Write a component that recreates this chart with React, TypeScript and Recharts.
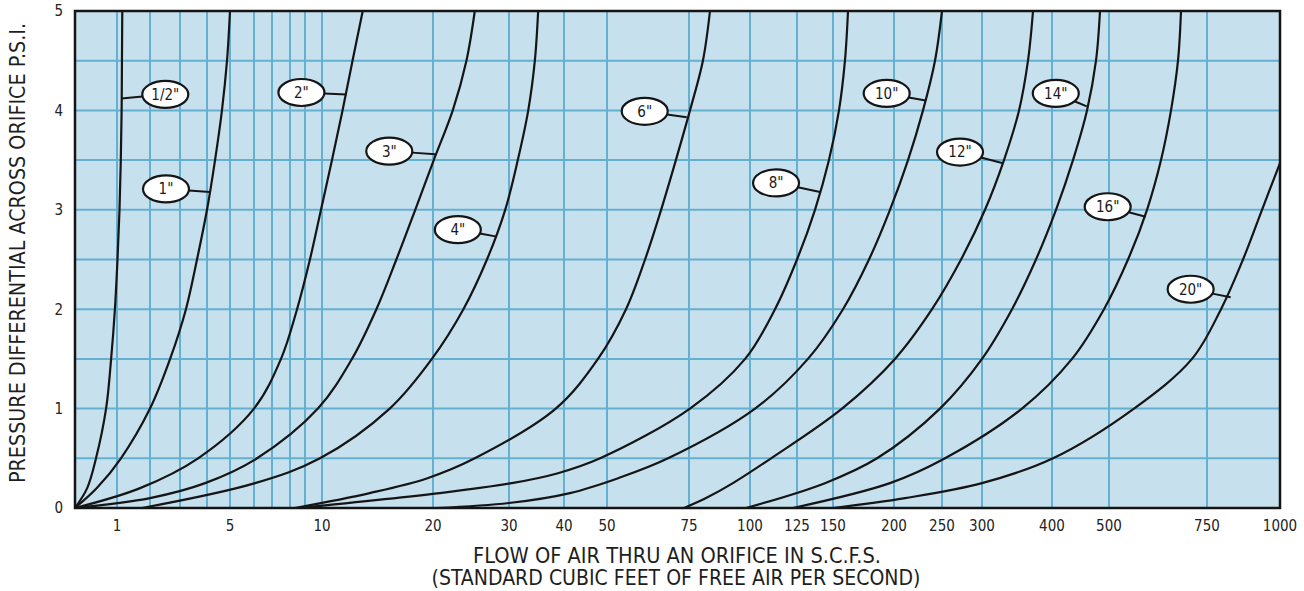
import React from "react";
import {
  LineChart,
  Line,
  XAxis,
  YAxis,
  CartesianGrid,
  ReferenceArea,
  ReferenceDot,
} from "recharts";

// x axis of the original is hand drawn: not linear, not log.
// flow value -> offset along the axis
const FLOW_STOPS = [0, 1, 2, 3, 4, 5, 6, 7, 8, 9, 10, 20, 30, 40, 50, 75, 100, 125, 150, 200, 250, 300, 400, 500, 750, 1000];
const STOP_OFFSETS = [0, 42, 75, 105, 132, 155, 179, 197, 215, 230, 247, 358, 434, 489, 532, 614, 675, 722, 758, 819, 867, 907, 977, 1034, 1132, 1205];
const FLOW_LABELS = [1, 5, 10, 20, 30, 40, 50, 75, 100, 125, 150, 200, 250, 300, 400, 500, 750, 1000];
const PSI_TICKS = [0, 0.5, 1, 1.5, 2, 2.5, 3, 3.5, 4, 4.5, 5];

// [flow scfs, psi] per orifice size
const HALF_IN: [number, number][] = [[0, 0], [0.29, 0.2], [0.5, 0.5], [0.74, 1], [0.86, 1.5], [0.95, 2], [1.015, 2.5], [1.076, 3], [1.115, 3.5], [1.14, 4], [1.15, 4.5], [1.16, 5]];
const ONE_IN: [number, number][] = [[0, 0], [0.52, 0.2], [1.12, 0.5], [2.0, 1], [2.67, 1.5], [3.22, 2], [3.63, 2.5], [4.0, 3], [4.35, 3.5], [4.65, 4], [4.87, 4.5], [5.0, 5]];
const TWO_IN: [number, number][] = [[0, 0], [1.7, 0.2], [3.67, 0.5], [6.0, 1], [7.5, 1.5], [8.47, 2], [9.29, 2.5], [9.94, 3], [10.9, 3.5], [11.85, 4], [12.75, 4.5], [13.67, 5]];
const THREE_IN: [number, number][] = [[0, 0], [2.0, 0.1], [3.93, 0.25], [6.17, 0.5], [9.76, 1], [12.7, 1.5], [14.9, 2], [16.7, 2.5], [18.4, 3], [20.1, 3.5], [22.6, 4], [24.4, 4.5], [25.5, 5]];
const FOUR_IN: [number, number][] = [[1.76, 0], [6.06, 0.25], [9.88, 0.5], [16.1, 1], [19.9, 1.5], [24.0, 2], [27.1, 2.5], [29.5, 3], [31.6, 3.5], [33.5, 4], [34.7, 4.5], [35.3, 5]];
const SIX_IN: [number, number][] = [[8.33, 0], [14.3, 0.15], [19.5, 0.3], [25.5, 0.5], [38.5, 1], [47.9, 1.5], [55.8, 2], [61.6, 2.5], [66.5, 3], [71.0, 3.5], [75.4, 4], [80.7, 4.5], [83.6, 5]];
const EIGHT_IN: [number, number][] = [[8.53, 0], [20.9, 0.15], [30.5, 0.25], [38.9, 0.35], [48.4, 0.5], [75.4, 1], [98.0, 1.5], [113.3, 2], [125, 2.5], [137.5, 3], [147.2, 3.5], [154.9, 4], [159.8, 4.5], [162.3, 5]];
const TEN_IN: [number, number][] = [[20.5, 0], [30.0, 0.05], [41.4, 0.15], [53.4, 0.3], [68.6, 0.5], [102.7, 1], [132.6, 1.5], [158.2, 2], [179.5, 2.5], [196.7, 3], [214.6, 3.5], [230.2, 4], [242.7, 4.5], [250, 5]];
const TWELVE_IN: [number, number][] = [[73.5, 0], [82.0, 0.1], [93.0, 0.25], [111.2, 0.5], [157.4, 1], [201, 1.5], [239.6, 2], [273.8, 2.5], [304.3, 3], [331.4, 3.5], [352.9, 4], [365.7, 4.5], [372.9, 5]];
const FOURTEEN_IN: [number, number][] = [[98.4, 0], [144.4, 0.25], [186.1, 0.5], [247.9, 1], [300, 1.5], [342.9, 2], [377.1, 2.5], [407.0, 3], [436.8, 3.5], [461.4, 4], [477.2, 4.5], [484.2, 5]];
const SIXTEEN_IN: [number, number][] = [[122.9, 0], [196.7, 0.25], [253.8, 0.5], [357.1, 1], [435.1, 1.5], [491.2, 2], [548.5, 2.5], [597.0, 3], [632.7, 3.5], [658.2, 4], [676.0, 4.5], [683.7, 5]];
const TWENTY_IN: [number, number][] = [[150, 0], [211.5, 0.1], [300, 0.25], [401.8, 0.5], [563.8, 1], [711.7, 1.5], [797.9, 2], [873.3, 2.5], [938.4, 3], [1000, 3.47]];

const CURVES = [HALF_IN, ONE_IN, TWO_IN, THREE_IN, FOUR_IN, SIX_IN, EIGHT_IN, TEN_IN, TWELVE_IN, FOURTEEN_IN, SIXTEEN_IN, TWENTY_IN];

// callout tags: where each leader touches its curve
const TAG_NAMES = ['1/2"', '1"', '2"', '3"', '4"', '6"', '8"', '10"', '12"', '14"', '16"', '20"'];
const TAG_FLOW = [1.13, 4.13, 12.2, 20.3, 28.4, 74.3, 141, 233, 328.6, 461, 593.6, 831];
const TAG_PSI = [4.12, 3.18, 4.16, 3.56, 2.73, 3.93, 3.18, 4.1, 3.47, 4.04, 2.93, 2.12];
// pixel offset of the ellipse from the touch point
const TAG_OFFSET = [[44, -4], [-44, -3], [-45, -2], [-46, -3], [-39, -7], [-42, -6], [-44, -9], [-39, -7], [-42, -11], [-31, -13], [-38, -10], [-40, -8]];

const FONT = '"Liberation Sans Narrow", "DejaVu Sans Condensed", "Arial Narrow", sans-serif';

function toAxis(flow: number) {
  for (let i = 0; i < FLOW_STOPS.length - 1; i++) {
    const a = FLOW_STOPS[i];
    const b = FLOW_STOPS[i + 1];
    if (flow <= b) {
      return STOP_OFFSETS[i] + ((flow - a) / (b - a)) * (STOP_OFFSETS[i + 1] - STOP_OFFSETS[i]);
    }
  }
  return STOP_OFFSETS[STOP_OFFSETS.length - 1];
}

function flowLabel(pos: number) {
  const i = STOP_OFFSETS.indexOf(pos);
  const v = FLOW_STOPS[i];
  return FLOW_LABELS.includes(v) ? String(v) : "";
}

// centripetal catmull-rom, passed to <Line type> as a d3 curve factory
// eslint-disable-next-line @typescript-eslint/no-explicit-any
const catmullRom = (ctx: any) => {
  let pts: number[][] = [];
  return {
    areaStart() {},
    areaEnd() {},
    lineStart() {
      pts = [];
    },
    point(x: number, y: number) {
      pts.push([+x, +y]);
    },
    lineEnd() {
      if (!pts.length) return;
      ctx.moveTo(pts[0][0], pts[0][1]);
      for (let i = 0; i < pts.length - 1; i++) {
        const p0 = pts[i - 1] || pts[i];
        const p1 = pts[i];
        const p2 = pts[i + 1];
        const p3 = pts[i + 2] || pts[i + 1];
        const d01 = Math.hypot(p1[0] - p0[0], p1[1] - p0[1]);
        const d12 = Math.hypot(p2[0] - p1[0], p2[1] - p1[1]);
        const d23 = Math.hypot(p3[0] - p2[0], p3[1] - p2[1]);
        const a01 = Math.sqrt(d01), a12 = Math.sqrt(d12), a23 = Math.sqrt(d23);
        let c1x = p1[0], c1y = p1[1], c2x = p2[0], c2y = p2[1];
        if (a01 > 1e-6) {
          const a = 2 * d01 + 3 * a01 * a12 + d12;
          const n = 3 * a01 * (a01 + a12);
          c1x = (p1[0] * a - p0[0] * d12 + p2[0] * d01) / n;
          c1y = (p1[1] * a - p0[1] * d12 + p2[1] * d01) / n;
        }
        if (a23 > 1e-6) {
          const b = 2 * d23 + 3 * a23 * a12 + d12;
          const m = 3 * a23 * (a23 + a12);
          c2x = (p2[0] * b + p1[0] * d23 - p3[0] * d12) / m;
          c2y = (p2[1] * b + p1[1] * d23 - p3[1] * d12) / m;
        }
        ctx.bezierCurveTo(c1x, c1y, c2x, c2y, p2[0], p2[1]);
      }
    },
  };
};

// eslint-disable-next-line @typescript-eslint/no-explicit-any
const SizeTag = ({ cx, cy, text, dx, dy }: any) => {
  const rx = 23;
  const ry = 13.5;
  const ex = cx + dx;
  const ey = cy + dy;
  const t = 1 / Math.sqrt((dx / rx) ** 2 + (dy / ry) ** 2);
  const px = ex - dx * t;
  const py = ey - dy * t;
  return (
    <g>
      <line x1={cx} y1={cy} x2={px} y2={py} stroke="#151515" strokeWidth={2} />
      <ellipse cx={ex} cy={ey} rx={rx} ry={ry} fill="#fff" stroke="#151515" strokeWidth={2.2} />
      <text x={ex} y={ey} dy="0.36em" textAnchor="middle" fontSize={15} fontFamily={FONT} fill="#1a1a1a">
        {text}
      </text>
    </g>
  );
};

export default function App() {
  const series = CURVES.map((c) => c.map(([f, p]) => ({ x: toAxis(f), p })));

  return (
    <div style={{ position: "absolute", left: 0, top: 0, width: 1304, height: 591, background: "#fff" }}>
      <LineChart width={1304} height={591} margin={{ top: 11, right: 24, bottom: 0, left: 0 }}>
        <CartesianGrid
          stroke="#64b0d0"
          strokeWidth={2}
          fill="#c7e0ee"
          fillOpacity={1}
          strokeOpacity={1}
        />
        <XAxis
          type="number"
          dataKey="x"
          domain={[0, 1205]}
          ticks={STOP_OFFSETS}
          interval={0}
          tickFormatter={flowLabel}
          axisLine={false}
          tickLine={false}
          tickSize={0}
          tickMargin={12}
          height={83}
          tick={{ fontSize: 15, fill: "#222", fontFamily: FONT }}
          label={{
            content: () => (
              <g fontFamily={FONT} fill="#1e1e1e" fontSize={21}>
                <text x={677} y={563} textAnchor="middle" textLength={408} lengthAdjust="spacingAndGlyphs">
                  FLOW OF AIR THRU AN ORIFICE IN S.C.F.S.
                </text>
                <text x={676} y={585} textAnchor="middle" textLength={489} lengthAdjust="spacingAndGlyphs">
                  (STANDARD CUBIC FEET OF FREE AIR PER SECOND)
                </text>
              </g>
            ),
          }}
        />
        <YAxis
          type="number"
          domain={[0, 5]}
          ticks={PSI_TICKS}
          interval={0}
          tickFormatter={(v) => (Number.isInteger(v) ? String(v) : "")}
          axisLine={false}
          tickLine={false}
          tickSize={0}
          tickMargin={12}
          width={75}
          tick={{ fontSize: 15, fill: "#222", fontFamily: FONT }}
          label={{
            content: () => (
              <text
                x={25}
                y={253}
                transform="rotate(-90, 25, 253)"
                textAnchor="middle"
                fontFamily={FONT}
                fontSize={21}
                fill="#1e1e1e"
                textLength={460}
                lengthAdjust="spacingAndGlyphs"
              >
                PRESSURE DIFFERENTIAL ACROSS ORIFICE P.S.I.
              </text>
            ),
          }}
        />
        <ReferenceArea x1={0} x2={1205} y1={0} y2={5} fill="none" stroke="#151515" strokeWidth={2.5} />
        {series.map((d, i) => (
          <Line
            key={TAG_NAMES[i]}
            data={d}
            dataKey="p"
            type={catmullRom}
            stroke="#151515"
            strokeWidth={2.2}
            dot={false}
            activeDot={false}
            isAnimationActive={false}
          />
        ))}
        {TAG_NAMES.map((name, i) => (
          <ReferenceDot
            key={"tag" + name}
            x={toAxis(TAG_FLOW[i])}
            y={TAG_PSI[i]}
            r={0}
            ifOverflow="visible"
            // eslint-disable-next-line @typescript-eslint/no-explicit-any
            shape={(props: any) => (
              <SizeTag cx={props.cx} cy={props.cy} text={name} dx={TAG_OFFSET[i][0]} dy={TAG_OFFSET[i][1]} />
            )}
          />
        ))}
      </LineChart>
    </div>
  );
}
